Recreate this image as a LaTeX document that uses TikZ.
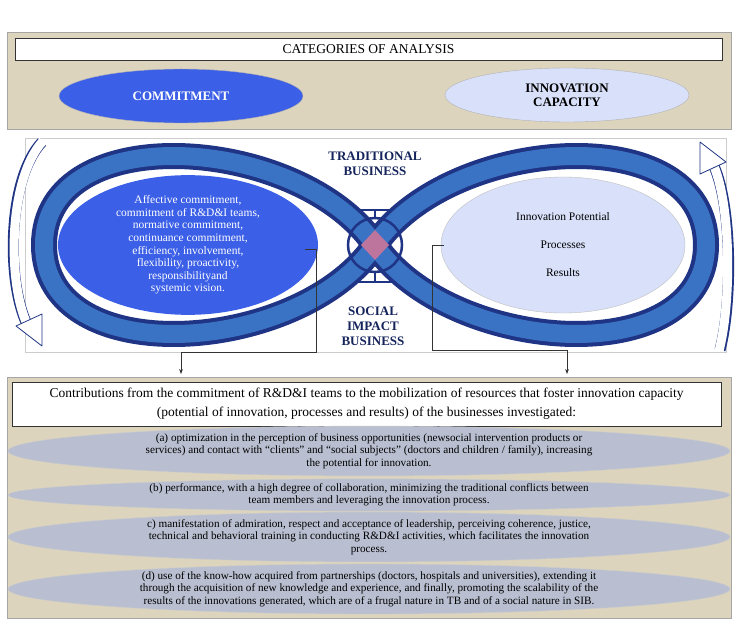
\documentclass[tikz,border=0pt]{standalone}
\usepackage{fontspec}
\setmainfont{Liberation Serif}
\usetikzlibrary{arrows.meta,shapes.geometric}
\definecolor{beige}{HTML}{DDD4BE}
\definecolor{bblue}{HTML}{3B5FE6}
\definecolor{lblue}{HTML}{D9E1FA}
\definecolor{navy}{HTML}{1F3484}
\definecolor{ringc}{HTML}{3A72C4}
\definecolor{grayell}{HTML}{B9BFD0}
\tikzset{
  panel/.style={fill=beige,draw=gray!70,line width=1pt},
  wbox/.style={fill=white,draw=black!80,line width=0.8pt},
  cat/.style={ellipse,minimum width=244pt,minimum height=54pt,draw=gray!60,font=\bfseries\fontsize{13}{14}\selectfont,align=center},
  gell/.style={ellipse,fill=grayell,draw=gray!40,minimum width=722pt,align=center,inner sep=0pt,font=\fontsize{11.2}{12.5}\selectfont},
  conn/.style={draw=black!80,line width=0.6pt},
  bt/.style={font=\bfseries\fontsize{13}{15}\selectfont,align=center,text=navy!70!black},
  arrowhd/.style={navy,fill=white,line width=0.8pt,line join=round},
}
\begin{document}
\begin{tikzpicture}[x=1pt,y=-1pt]
\useasboundingbox (0,0) rectangle (739,620);
% top panel
\draw[panel] (7,33) rectangle (731,130);
\node[wbox,minimum width=707pt,minimum height=22pt,font=\fontsize{13.5}{14}\selectfont] (title) at (368.5,49) {CATEGORIES OF ANALYSIS};
\node[cat,fill=bblue,text=white] (commit) at (181,96) {COMMITMENT};
\node[cat,fill=lblue,text=black] (innov) at (567,95) {INNOVATION\\CAPACITY};
% middle panel
\draw[draw=gray!40,fill=white] (25,138) rectangle (726,352);
% infinity
\def\inf{(375,245) .. controls (300,135) and (44,118) .. (44,245) .. controls (44,372) and (300,355) .. (375,245) .. controls (450,135) and (706,118) .. (706,245) .. controls (706,372) and (450,355) .. (375,245)}
\draw[line width=26pt,navy] \inf;
\draw[line width=18pt,ringc] \inf;
\node[ellipse,fill=bblue,minimum width=260pt,minimum height=136pt,inner sep=0pt,text=white,align=center,font=\fontsize{11.5}{12.6}\selectfont] (left) at (188,245) {Affective commitment,\\commitment of R\&D\&I teams,\\normative commitment,\\continuance commitment,\\efficiency, involvement,\\flexibility, proactivity,\\responsibilityand\\systemic vision.};
\node[ellipse,fill=lblue,draw=gray!50,minimum width=244pt,minimum height=136pt,inner sep=0pt,align=center,font=\fontsize{11.5}{28}\selectfont] (right) at (563,245) {Innovation Potential\\Processes\\Results};
% center symbol
\node[circle,draw=navy,line width=2.5pt,minimum size=54pt,inner sep=0pt] (ctr) at (375,245) {};
\fill[violet!40!pink!80!gray] (375,230) -- (389,245) -- (375,260) -- (361,245) -- cycle;
\draw[navy,line width=2pt] (357,210) -- (393,210) (375,210) -- (375,218);
\draw[navy,line width=2pt] (357,282) -- (393,282) (375,272) -- (375,282);
\node[bt] (tb) at (375,164) {TRADITIONAL\\BUSINESS};
\node[bt] (sib) at (373,326) {SOCIAL\\IMPACT\\BUSINESS};
% side arrows
\draw[navy,line width=11pt] (42,142) .. controls (6,180) and (6,290) .. (30,330);
\draw[white,line width=9pt] (43,141) .. controls (7,180) and (7,290) .. (30,330);
\draw[arrowhd] (16,326) -- (42,346) -- (42,314) -- cycle;
\draw[navy,line width=11pt] (720,350) .. controls (733,300) and (732,200) .. (712,162);
\draw[white,line width=9pt] (719,351) .. controls (732,300) and (731,200) .. (712,162);
\draw[arrowhd] (700,174) -- (700,142) -- (726,162) -- cycle;
% bottom panel
\draw[panel] (7,377) rectangle (731,618);
\node[wbox,minimum width=709pt,minimum height=44pt,align=center,font=\fontsize{13.5}{19}\selectfont] (contrib) at (366.5,404) {Contributions from the commitment of R\&D\&I teams to the mobilization of resources that foster innovation capacity\\(potential of innovation, processes and results) of the businesses investigated:};
\coordinate (la) at (181,374);
\coordinate (ra) at (567,374);
\draw[conn] (305,249) -- (316,249) -- (316,352) -- (181,352);
\draw[conn,-{Stealth[length=5pt]}] (181,352) -- (la);
\draw[conn] (444,245) -- (432,245) -- (432,350) -- (567,350);
\draw[conn,-{Stealth[length=5pt]}] (567,350) -- (ra);
\node[gell,minimum height=40pt] (a) at (369,451) {(a) optimization in the perception of business opportunities (newsocial intervention products or\\services) and contact with ``clients'' and ``social subjects'' (doctors and children / family), increasing\\the potential for innovation.};
\node[gell,minimum height=32pt] (b) at (369,495) {(b) performance, with a high degree of collaboration, minimizing the traditional conflicts between\\team members and leveraging the innovation process.};
\node[gell,minimum height=44pt] (c) at (369,537) {c) manifestation of admiration, respect and acceptance of leadership, perceiving coherence, justice,\\technical and behavioral training in conducting R\&D\&I activities, which facilitates the innovation\\process.};
\node[gell,minimum height=50pt] (d) at (369,589) {(d) use of the know-how acquired from partnerships (doctors, hospitals and universities), extending it\\through the acquisition of new knowledge and experience, and finally, promoting the scalability of the\\results of the innovations generated, which are of a frugal nature in TB and of a social nature in SIB.};
\end{tikzpicture}
\end{document}
